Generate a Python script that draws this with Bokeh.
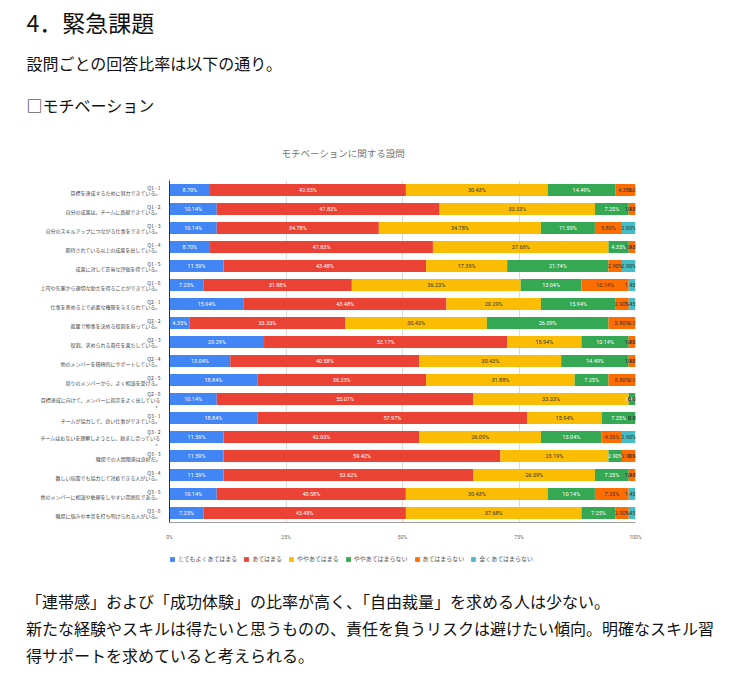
from bokeh.plotting import figure
from bokeh.layouts import column
from bokeh.models import (ColumnDataSource, FactorRange, Range1d, FixedTicker, Title,
                          Legend, LegendItem, Div)
from bokeh.core.properties import value
from bokeh.embed import file_html
from bokeh.resources import INLINE

# ---- data -------------------------------------------------------------
questions = ["Q1 - 1", "Q1 - 2", "Q1 - 3", "Q1 - 4", "Q1 - 5", "Q1 - 6",
             "Q2 - 1", "Q2 - 2", "Q2 - 3", "Q2 - 4", "Q2 - 5", "Q2 - 6",
             "Q3 - 1", "Q3 - 2", "Q3 - 3", "Q3 - 4", "Q3 - 5", "Q3 - 6"]

question_texts = [
    "目標を達成するために努力できている。",
    "自分の成果は、チームに貢献できている。",
    "自分のスキルアップにつながる仕事をできている。",
    "期待されている以上の成果を出している。",
    "成果に対して正当な評価を得ている。",
    "上司や先輩から適切な助言を得ることができている。",
    "仕事を進める上で必要な権限を与えられている。",
    "裁量で物事を決める役割を担っている。",
    "役割、求められる責任を果たしている。",
    "他のメンバーを積極的にサポートしている。",
    "周りのメンバーから、よく相談を受ける。",
    "目標達成に向けて、メンバーに指示をよく出している\n。",
    "チームが協力して、良い仕事ができている。",
    "チームはお互いを理解しようとし、励まし合っている\n。",
    "職場での人間関係は良好だ。",
    "難しい局面でも協力して対処できる人がいる。",
    "他のメンバーに相談や依頼をしやすい雰囲気である。",
    "職場に悩みや本音を打ち明けられる人がいる。",
]

categories = ["とてもよくあてはまる", "あてはまる", "ややあてはまる",
              "ややあてはまらない", "あてはまらない", "全くあてはまらない"]

very_true = [8.70, 10.14, 10.14, 8.70, 11.59, 7.25, 15.94, 4.35, 20.29,
             13.04, 18.84, 10.14, 18.84, 11.59, 11.59, 11.59, 10.14, 7.25]
true_ = [42.03, 47.83, 34.78, 47.83, 43.48, 31.88, 43.48, 33.33, 52.17,
         40.58, 36.23, 55.07, 57.97, 42.03, 59.42, 53.62, 40.58, 43.48]
somewhat_true = [30.43, 33.33, 34.78, 37.68, 17.39, 36.23, 20.29, 30.43, 15.94,
                 30.43, 31.88, 33.33, 15.94, 26.09, 23.19, 26.09, 30.43, 37.68]
somewhat_not = [14.49, 7.25, 11.59, 4.35, 21.74, 13.04, 15.94, 26.09, 10.14,
                14.49, 7.25, 1.45, 7.25, 13.04, 2.90, 7.25, 10.14, 7.25]
not_true = [4.35, 1.45, 5.80, 1.45, 2.90, 10.14, 2.90, 5.80, 1.45,
            1.45, 5.80, 0.00, 0.00, 4.35, 2.90, 1.45, 7.25, 2.90]
not_at_all = [0.00, 0.00, 2.90, 0.00, 2.90, 1.45, 1.45, 0.00, 0.00,
              0.00, 0.00, 0.00, 0.00, 2.90, 0.00, 0.00, 1.45, 1.45]

x_ticks = [0, 25, 50, 75, 100]
x_tick_labels = ["0%", "25%", "50%", "75%", "100%"]

heading = "4．緊急課題"
intro = "設問ごとの回答比率は以下の通り。"
section = "□モチベーション"
chart_title = "モチベーションに関する設問"
summary_lines = [
    "「連帯感」および「成功体験」の比率が高く、「自由裁量」を求める人は少ない。",
    "新たな経験やスキルは得たいと思うものの、責任を負うリスクは避けたい傾向。明確なスキル習",
    "得サポートを求めていると考えられる。",
]

# ---- styling ----------------------------------------------------------
colors = ["#4285F4", "#EA4335", "#FBBC04", "#34A853", "#FF6D01", "#46BDC6"]
label_colors = ["#ffffff", "#ffffff", "#333333", "#ffffff", "#333333", "#333333"]
JP = "Noto Sans CJK JP"
W = 747
PLOT_H, LEGEND_H, FOOTER_H = 542, 33, 108
FRAME_L, FRAME_R, FRAME_T, FRAME_B = 169, 635, 173, 530
LEGEND_X = 159
TEXT_X = 26

factors = [q + "\n" + t for q, t in zip(questions, question_texts)]
series = [very_true, true_, somewhat_true, somewhat_not, not_true, not_at_all]
keys = ["s%d" % i for i in range(len(series))]

data = {"q": factors}
for k, s in zip(keys, series):
    data[k] = s
source = ColumnDataSource(data)

p = figure(width=W, height=PLOT_H,
           y_range=FactorRange(factors=list(reversed(factors))),
           x_range=Range1d(0, 100),
           output_backend="svg", toolbar_location=None,
           min_border_left=FRAME_L, min_border_right=W - FRAME_R,
           min_border_top=FRAME_T, min_border_bottom=PLOT_H - FRAME_B)
p.outline_line_color = None

p.hbar_stack(keys, y="q", height=0.63, color=colors, line_color=None, source=source)

# value labels centred in each segment
for i, s in enumerate(series):
    xs, ys, txt = [], [], []
    for j, q in enumerate(factors):
        left = sum(series[k][j] for k in range(i))
        xs.append(left + s[j] / 2.0)
        ys.append(q)
        txt.append("%.2f%%" % s[j])
    p.text(x=xs, y=ys, text=txt, text_align="center", text_baseline="middle",
           text_font=value("Roboto"), text_font_size="5.5px",
           text_color=label_colors[i])

p.xaxis.ticker = FixedTicker(ticks=x_ticks)
p.xaxis.major_label_overrides = {t: l for t, l in zip(x_ticks, x_tick_labels)}
p.xaxis.major_label_text_font = "Roboto"
p.xaxis.major_label_text_font_size = "5px"
p.xaxis.major_label_text_color = "#666666"
p.xaxis.major_label_standoff = 5
p.xaxis.major_tick_line_color = None
p.xaxis.minor_tick_line_color = None
p.xaxis.axis_line_color = "#9e9e9e"

p.yaxis.major_label_text_font = JP
p.yaxis.major_label_text_font_size = "5px"
p.yaxis.major_label_text_line_height = 0.85
p.yaxis.major_label_text_color = "#444444"
p.yaxis.major_label_standoff = 3
p.yaxis.major_tick_line_color = None
p.yaxis.minor_tick_line_color = None
p.yaxis.axis_line_color = "#333333"

p.ygrid.grid_line_color = None
p.xgrid.ticker = FixedTicker(ticks=x_ticks[1:])
p.xgrid.grid_line_color = "#d9d9d9"


def text_title(text, size, standoff, color="#111111", offset=None, valign="bottom"):
    if offset is None:
        offset = TEXT_X - FRAME_L
    t = Title(text=text, text_font=JP, text_font_size=size, text_font_style="normal",
              text_color=color, align="left", offset=offset, standoff=standoff,
              vertical_align=valign)
    p.add_layout(t, "above")


# page texts above the chart, stacked from the plot outward
text_title(chart_title, "9.5px", 38.9, color="#757575", offset=281 - FRAME_L, valign="middle")
text_title(section, "16px", 18)
text_title(intro, "16px", 13.2)
text_title(heading, "23px", 6.2)

# ---- legend strip under the chart -------------------------------------
lg = figure(width=W, height=LEGEND_H,
            y_range=FactorRange(factors=list(reversed(factors))),
            x_range=Range1d(0, 100),
            output_backend="svg", toolbar_location=None,
            x_axis_location=None, y_axis_location=None,
            min_border_left=LEGEND_X, min_border_right=W - FRAME_R,
            min_border_top=0, min_border_bottom=0)
lg.grid.visible = False
lg.outline_line_color = None
legend_renderers = lg.hbar_stack(keys, y="q", height=0.63, color=colors,
                                 line_color=None, source=source)
for r in legend_renderers:
    r.visible = False

items = [LegendItem(label=c, renderers=[r]) for c, r in zip(categories, legend_renderers)]
legend = Legend(items=items, orientation="horizontal", location=(0, 12),
                glyph_width=6, glyph_height=6, label_standoff=3, spacing=6,
                padding=0, margin=0, border_line_color=None,
                background_fill_alpha=0, label_height=6,
                label_text_font=JP, label_text_font_size="6px",
                label_text_color="#555555")
lg.add_layout(legend)

# ---- closing remarks ----------------------------------------------------
footer = Div(
    text="<br>".join(summary_lines),
    width=W, height=FOOTER_H, margin=(0, 0, 0, 0),
    styles={"font-family": JP, "font-size": "16px", "line-height": "27px",
            "color": "#111111", "padding-left": "%dpx" % TEXT_X, "padding-top": "13px",
            "white-space": "nowrap", "box-sizing": "border-box"},
)

layout = column(p, lg, footer, spacing=0)
open("out.html", "w").write(file_html(layout, INLINE))
